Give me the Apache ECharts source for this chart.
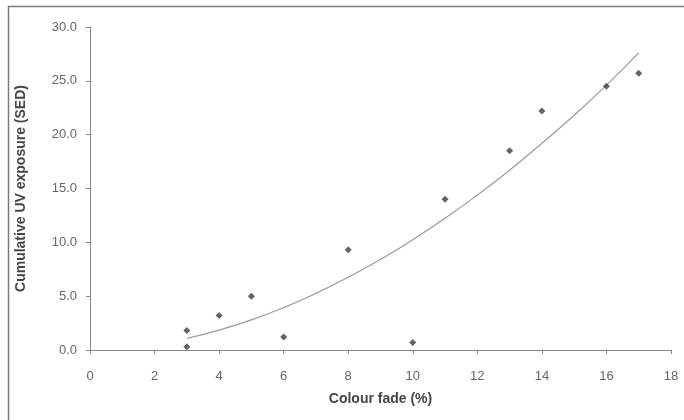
<!DOCTYPE html>
<html>
<head>
<meta charset="utf-8">
<script src="https://cdn.jsdelivr.net/npm/echarts@6/dist/echarts.min.js"></script>
<style>html,body{margin:0;padding:0;background:#fff;}#c{width:684px;height:420px;}</style>
</head>
<body>
<div id="c"></div>
<script>
const fadeX = [3, 3, 4, 5, 6, 8, 10, 11, 13, 14, 16, 17];
const uvY = [1.8, 0.3, 3.2, 5.0, 1.2, 9.3, 0.7, 14.0, 18.5, 22.2, 24.5, 25.7];
const trendX = [3, 4, 5, 6, 7, 8, 9, 10, 11, 12, 13, 14, 15, 16, 17];
const trendY = [1.08, 1.85, 2.8, 3.94, 5.26, 6.75, 8.41, 10.24, 12.23, 14.39, 16.7, 19.2, 21.8, 24.6, 27.6];
const xTitle = 'Colour fade (%)';
const yTitle = 'Cumulative UV exposure (SED)';

const chart = echarts.init(document.getElementById('c'));
const axisCol = '#7d8c89';
chart.setOption({
  backgroundColor: '#ffffff',
  animation: false,
  textStyle: { fontFamily: 'Liberation Sans, Arial, sans-serif' },
  grid: { left: 90, right: 13, top: 27, bottom: 70 },
  graphic: [{
    type: 'rect', shape: { x: 8.5, y: 6.5, width: 700, height: 430 },
    style: { fill: 'none', stroke: '#6f7f7b', lineWidth: 1.5 }, silent: true
  }],
  xAxis: {
    type: 'value', min: 0, max: 18, interval: 2,
    name: xTitle, nameLocation: 'middle', nameGap: 42,
    nameTextStyle: { fontSize: 14, fontWeight: 'bold', color: '#454545' },
    axisLine: { show: true, lineStyle: { color: axisCol, width: 1 } },
    axisTick: { show: true, length: 4, lineStyle: { color: axisCol } },
    axisLabel: { fontSize: 13, color: '#666', margin: 20 },
    splitLine: { show: false }
  },
  yAxis: {
    type: 'value', min: 0, max: 30, interval: 5,
    name: yTitle, nameLocation: 'middle', nameGap: 62, nameRotate: 90,
    nameTextStyle: { fontSize: 14, fontWeight: 'bold', color: '#454545' },
    axisLine: { show: true, lineStyle: { color: axisCol, width: 1 } },
    axisTick: { show: true, length: 4, lineStyle: { color: axisCol } },
    axisLabel: { fontSize: 13, color: '#666', margin: 13, formatter: v => v.toFixed(1) },
    splitLine: { show: false }
  },
  series: [
    {
      type: 'line', data: trendX.map((x, i) => [x, trendY[i]]),
      smooth: true, showSymbol: false, symbol: 'none',
      lineStyle: { color: '#9a9a9a', width: 1.2 }, z: 1
    },
    {
      type: 'scatter', data: fadeX.map((x, i) => [x, uvY[i]]),
      symbol: 'diamond', symbolSize: 7,
      itemStyle: { color: '#3c3c3c' }, z: 2
    }
  ]
});
</script>
</body>
</html>
